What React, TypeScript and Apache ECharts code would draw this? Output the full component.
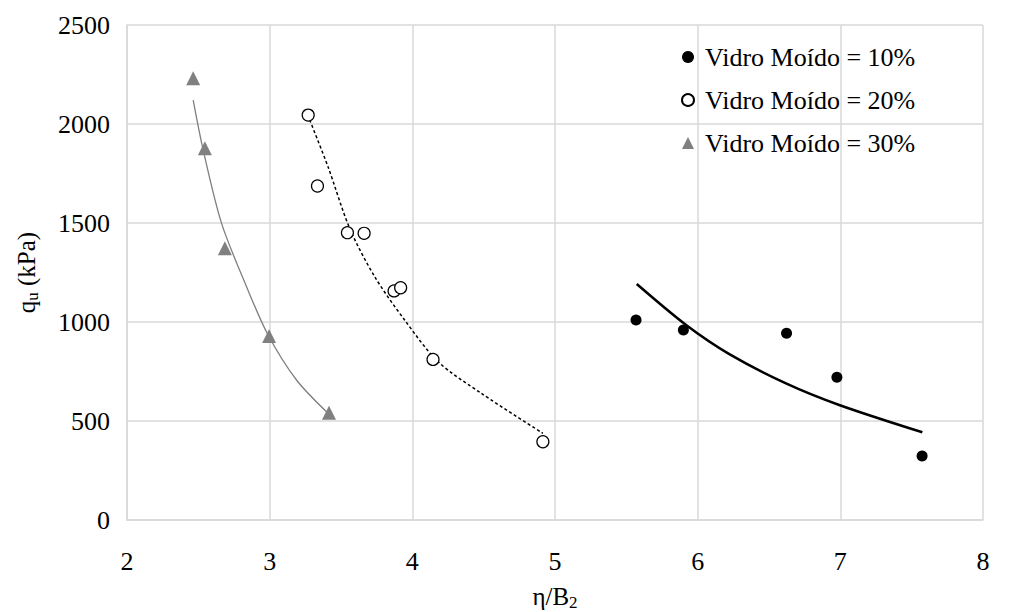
import React, { useEffect, useRef } from "react";
import * as echarts from "echarts";

// ---- data ----
const x10 = [5.568, 5.9, 6.623, 6.976, 7.573];
const y10 = [1010, 960, 943, 721, 323];
const x20 = [3.27, 3.335, 3.545, 3.662, 3.872, 3.918, 4.145, 4.915];
const y20 = [2045, 1687, 1451, 1448, 1157, 1173, 811, 395];
const x30 = [2.464, 2.546, 2.686, 2.996, 3.416];
const y30 = [2231, 1877, 1372, 929, 542];

// trend curves
const t10x = [5.573, 5.919, 6.222, 6.619, 6.992, 7.575];
const t10y = [1192, 985, 838, 690, 581, 443];
const t20x = [3.281, 3.409, 3.561, 3.736, 3.946, 4.18, 4.483, 4.915];
const t20y = [2020, 1784, 1473, 1229, 1010, 800, 640, 438];
const t30x = [2.464, 2.534, 2.663, 2.838, 2.989, 3.188, 3.409];
const t30y = [2121, 1869, 1498, 1178, 934, 707, 539];

const seriesNames = ["Vidro Moído = 10%", "Vidro Moído = 20%", "Vidro Moído = 30%"];
const xTicks = { min: 2, max: 8, interval: 1 };
const yTicks = { min: 0, max: 2500, interval: 500 };

const FONT = "Liberation Serif";
const GRID = "#d9d9d9";

const zip = (xs: number[], ys: number[]) => xs.map((x, i) => [x, ys[i]]);

export default function App() {
  const ref = useRef<HTMLDivElement>(null);
  useEffect(() => {
    document.body.style.margin = "0";
    if (!ref.current) return;
    const chart = echarts.init(ref.current, undefined, { renderer: "svg" });
    chart.setOption({
      animation: false,
      backgroundColor: "#ffffff",
      textStyle: { fontFamily: FONT },
      grid: { left: 127, right: 29, top: 25, bottom: 92, containLabel: false, outerBoundsMode: "none" },
      legend: {
        data: seriesNames,
        orient: "vertical",
        left: 676,
        top: 39,
        itemWidth: 12,
        itemHeight: 12,
        itemGap: 17,
        textStyle: { fontFamily: FONT, fontSize: 26, color: "#000", padding: [0, 0, 0, 6] },
      },
      xAxis: {
        type: "value",
        min: xTicks.min,
        max: xTicks.max,
        interval: xTicks.interval,
        name: "{n|η/B}{s|2}",
        nameLocation: "middle",
        nameGap: 62,
        nameTextStyle: {
          rich: {
            n: { fontFamily: FONT, fontSize: 25, color: "#000" },
            s: { fontFamily: FONT, fontSize: 17, color: "#000", padding: [12, 0, 0, 0] },
          },
        },
        axisLine: { show: true, lineStyle: { color: GRID, width: 1.5 } },
        axisTick: { show: false },
        splitLine: { show: true, lineStyle: { color: GRID, width: 1.5 } },
        axisLabel: { fontFamily: FONT, fontSize: 26, color: "#000", margin: 28 },
      },
      yAxis: {
        type: "value",
        min: yTicks.min,
        max: yTicks.max,
        interval: yTicks.interval,
        name: "{n|q}{s|u}{n| (kPa)}",
        nameLocation: "middle",
        nameRotate: 90,
        nameGap: 86,
        nameTextStyle: {
          rich: {
            n: { fontFamily: FONT, fontSize: 25, color: "#000" },
            s: { fontFamily: FONT, fontSize: 17, color: "#000", padding: [12, 0, 0, 0] },
          },
        },
        axisLine: { show: true, lineStyle: { color: GRID, width: 1.5 } },
        axisTick: { show: false },
        splitLine: { show: true, lineStyle: { color: GRID, width: 1.5 } },
        axisLabel: {
          fontFamily: FONT,
          fontSize: 26,
          color: "#000",
          margin: 17,
          formatter: (v: number) => String(v),
        },
      },
      series: [
        {
          name: "trend10",
          type: "line",
          data: zip(t10x, t10y),
          smooth: 0.3,
          symbol: "none",
          lineStyle: { color: "#000", width: 2.5 },
          z: 2,
          silent: true,
        },
        {
          name: "trend20",
          type: "line",
          data: zip(t20x, t20y),
          smooth: 0.3,
          symbol: "none",
          lineStyle: { color: "#000", width: 1.5, type: [3, 2.5] },
          z: 2,
          silent: true,
        },
        {
          name: "trend30",
          type: "line",
          data: zip(t30x, t30y),
          smooth: 0.3,
          symbol: "none",
          lineStyle: { color: "#7f7f7f", width: 1.3 },
          z: 2,
          silent: true,
        },
        {
          name: seriesNames[0],
          type: "scatter",
          data: zip(x10, y10),
          symbol: "circle",
          symbolSize: 11,
          itemStyle: { color: "#000", opacity: 1 },
          z: 3,
        },
        {
          name: seriesNames[1],
          type: "scatter",
          data: zip(x20, y20),
          symbol: "circle",
          symbolSize: 12,
          itemStyle: { color: "#fff", borderColor: "#000", borderWidth: 1.2, opacity: 1 },
          z: 3,
        },
        {
          name: seriesNames[2],
          type: "scatter",
          data: zip(x30, y30),
          symbol: "triangle",
          symbolSize: 14,
          itemStyle: { color: "#808080", opacity: 1 },
          z: 3,
        },
      ],
    });
    return () => chart.dispose();
  }, []);
  return <div ref={ref} style={{ width: 1012, height: 612 }} />;
}
